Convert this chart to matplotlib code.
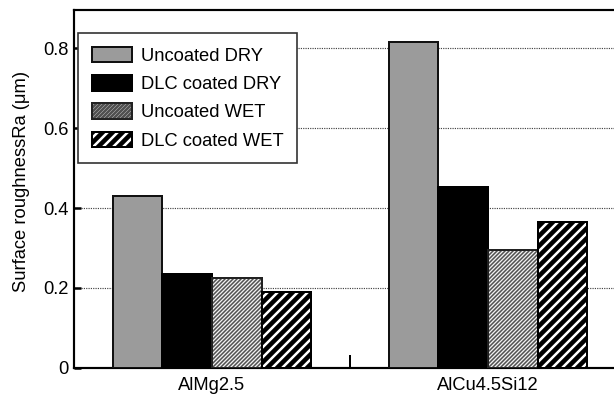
import matplotlib
matplotlib.use("Agg")
import matplotlib.pyplot as plt
import numpy as np

categories = ["AlMg2.5", "AlCu4.5Si12"]
series_names = ["Uncoated DRY", "DLC coated DRY", "Uncoated WET", "DLC coated WET"]
uncoated_dry = [0.43, 0.815]
dlc_dry = [0.235, 0.453]
uncoated_wet = [0.224, 0.295]
dlc_wet = [0.189, 0.366]
yticks = [0, 0.2, 0.4, 0.6, 0.8]
ytick_labels = ["0", "0.2", "0.4", "0.6", "0.8"]

DPI = 120
plt.rcParams['font.family'] = ['Liberation Sans', 'DejaVu Sans']
plt.rcParams['hatch.linewidth'] = 1.5

fig = plt.figure(figsize=(614 / DPI, 394 / DPI), dpi=DPI)
ax = fig.add_axes([74 / 614, 26 / 394, 552 / 614, 358 / 394])

x = np.arange(1, len(categories) + 1)
w = 0.18
offsets = [-1.5 * w, -0.5 * w, 0.5 * w, 1.5 * w]


def set_hlw(container, lw):
    for p in container:
        if hasattr(p, "set_hatch_linewidth"):
            p.set_hatch_linewidth(lw)


b1 = ax.bar(x + offsets[0], uncoated_dry, w, color="#9b9b9b", edgecolor="#111111",
            linewidth=1.2, zorder=3)
b2 = ax.bar(x + offsets[1], dlc_dry, w, color="black", edgecolor="black",
            linewidth=1.2, zorder=3)
b3f = ax.bar(x + offsets[2], uncoated_wet, w, color="#f0f0f0", edgecolor="#505050",
             hatch="//////////", linewidth=0, zorder=3)
set_hlw(b3f, 0.9)
b3e = ax.bar(x + offsets[2], uncoated_wet, w, fill=False, edgecolor="#222222",
             linewidth=1.2, zorder=4)
b4f = ax.bar(x + offsets[3], dlc_wet, w, color="black", edgecolor="white",
             hatch="////", linewidth=0, zorder=3)
set_hlw(b4f, 1.5)
b4e = ax.bar(x + offsets[3], dlc_wet, w, fill=False, edgecolor="black",
             linewidth=1.2, zorder=4)

ax.set_xlim(0.5, 2.5)
ax.set_ylim(0, 0.895)
ax.set_yticks(yticks)
ax.set_yticklabels(ytick_labels)
ax.set_xticks(x)
ax.set_xticklabels(categories)
ax.set_xticks([1.5], minor=True)

ax.tick_params(axis="y", direction="in", length=4, width=1.5, labelsize=11, pad=3.5)
ax.tick_params(axis="x", which="major", length=0, labelsize=11, pad=5.5)
ax.tick_params(axis="x", which="minor", direction="in", length=8, width=1.2)

ax.yaxis.grid(True, linestyle=(0, (1, 1)), color="#444444", linewidth=0.7, zorder=0)
ax.set_axisbelow(True)

for s in ["left", "top", "bottom"]:
    ax.spines[s].set_linewidth(1.3)
ax.spines["right"].set_visible(False)

ax.set_ylabel("Surface roughnessRa (\u03bcm)", fontsize=11)
ax.yaxis.set_label_coords(-0.079, 0.521)

leg = ax.legend([b1, b2, (b3f, b3e), (b4f, b4e)], series_names,
                loc="upper left", bbox_to_anchor=(0.007, 0.936), borderaxespad=0,
                fontsize=11, handlelength=2.2, handleheight=0.95, handletextpad=0.5,
                labelspacing=0.55, borderpad=0.75, fancybox=False, framealpha=1,
                edgecolor="#333333")
leg.get_frame().set_linewidth(1.0)

fig.savefig("out.png", dpi=DPI)
